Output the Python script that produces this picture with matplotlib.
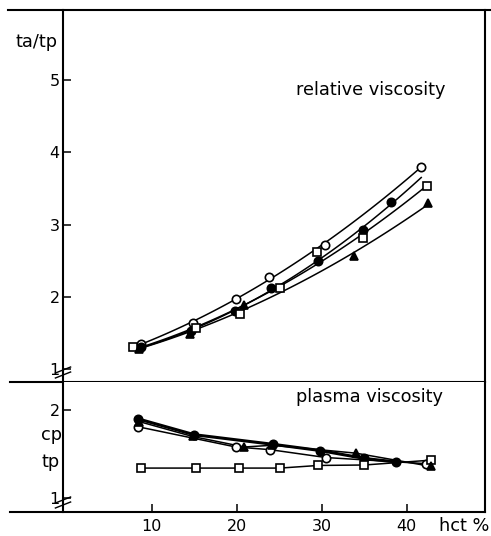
import numpy as np
import matplotlib
matplotlib.use("Agg")
import matplotlib.pyplot as plt

plt.rcParams["font.family"] = ["DejaVu Sans"]

# relative viscosity (upper panel)
rv_hct_oc = [8.7, 14.9, 19.9, 23.8, 30.4, 41.7]
rv_oc = [1.35, 1.64, 1.97, 2.28, 2.72, 3.80]
rv_hct_fc = [8.7, 14.6, 19.8, 24.0, 29.5, 34.9, 38.2]
rv_fc = [1.30, 1.53, 1.81, 2.12, 2.50, 2.93, 3.31]
rv_hct_sq = [7.8, 15.2, 20.4, 25.1, 29.4, 34.9, 42.4]
rv_sq = [1.30, 1.57, 1.77, 2.12, 2.62, 2.82, 3.53]
rv_hct_tr = [8.5, 14.5, 20.9, 33.8, 42.5]
rv_tr = [1.28, 1.49, 1.89, 2.56, 3.30]

# plasma viscosity (lower panel)
pv_hct_fc = [8.4, 15.0, 24.3, 29.8, 35.0, 38.7]
pv_fc = [1.90, 1.72, 1.61, 1.54, 1.45, 1.41]
pv_hct_oc = [8.4, 19.9, 23.9, 30.5, 42.3]
pv_oc = [1.81, 1.58, 1.55, 1.46, 1.39]
pv_hct_tr = [8.5, 14.8, 20.9, 24.2, 34.0, 42.8]
pv_tr = [1.87, 1.70, 1.58, 1.60, 1.51, 1.36]
pv_hct_sq = [8.7, 15.2, 20.3, 25.1, 29.6, 35.0, 42.8]
pv_sq = [1.34, 1.34, 1.34, 1.34, 1.37, 1.375, 1.43]

xticks = [10, 20, 30, 40]

W, H = 491, 536
fig = plt.figure(figsize=(W / 100, H / 100), dpi=100)
L, R = 63 / W, 485 / W
ax1 = fig.add_axes([L, 1 - 382 / H, R - L, (382 - 10) / H])
ax2 = fig.add_axes([L, 1 - 512 / H, R - L, (512 - 382) / H])

lw = 1.5
mk = dict(color="black", ms=6, mew=1.2, ls="none", zorder=3)
MARKS = [("o", "white"), ("o", "black"), ("s", "white"), ("^", "black")]


def smooth(ax, x, y, x_end=None):
    x = np.asarray(x); y = np.asarray(y)
    c = np.polyfit(x, y, 2)
    xs = np.linspace(x.min(), x.max() if x_end is None else x_end, 100)
    ax.plot(xs, np.polyval(c, xs), color="black", lw=1.1, zorder=2)


upper = [(rv_hct_oc, rv_oc), (rv_hct_fc, rv_fc), (rv_hct_sq, rv_sq), (rv_hct_tr, rv_tr)]
for (x, y), (m, fc) in zip(upper, MARKS):
    smooth(ax1, x, y, max(rv_hct_oc) if fc == "black" and m == "o" else None)
    ax1.plot(x, y, marker=m, mfc=fc, **mk)

lower = [(pv_hct_oc, pv_oc), (pv_hct_fc, pv_fc), (pv_hct_sq, pv_sq), (pv_hct_tr, pv_tr)]
for (x, y), (m, fc) in zip(lower, MARKS):
    ax2.plot(x, y, color="black", lw=2.2 if fc == "black" and m == "o" else 1.1, zorder=2)
    ax2.plot(x, y, marker=m, mfc=fc, **mk)

ax1.set_xlim(-0.44, 49.2); ax2.set_xlim(-0.44, 49.2)
ax1.set_ylim(0.823, 5.966)
ax2.set_ylim(0.84, 2.32)

for ax in (ax1, ax2):
    for s in ("top", "bottom"):
        ax.spines[s].set_visible(False)
    for s in ("left", "right"):
        ax.spines[s].set_linewidth(lw)
    ax.tick_params(direction="in", length=6, width=1.1, labelsize=11.5, pad=2.5)
    # horizontal frame lines reaching past the y axis
    ax.plot([-0.125, 1.0], [0, 0], color="black", lw=lw, transform=ax.transAxes, clip_on=False)
    # axis break marks
    f = 1 / ax.bbox.height
    for dy in (0, 5):
        ax.plot([-0.018, 0.018], [(4 + dy) * f, (10 + dy) * f], color="black", lw=1.0,
                transform=ax.transAxes, clip_on=False)

ax1.plot([-0.13, 1.014], [1, 1], color="black", lw=lw, transform=ax1.transAxes, clip_on=False)
ax1.set_yticks([1, 2, 3, 4, 5])
ax1.set_xticks([])
ax2.set_yticks([1, 2])
ax2.set_xticks(xticks)
ax2.tick_params(axis="x", pad=5)

fs = 12.8
fig.text(445 / W, 1 - 90 / H, "relative viscosity", ha="right", va="center", fontsize=fs)
fig.text(443 / W, 1 - 397 / H, "plasma viscosity", ha="right", va="center", fontsize=fs)
fig.text(37 / W, 1 - 42 / H, "ta/tp", ha="center", va="center", fontsize=fs)
fig.text(51 / W, 1 - 435 / H, "cp", ha="center", va="center", fontsize=fs)
fig.text(51 / W, 1 - 462 / H, "tp", ha="center", va="center", fontsize=fs)
fig.text(489 / W, 1 - 526 / H, "hct %", ha="right", va="center", fontsize=fs)

fig.savefig("out.png", dpi=100)
